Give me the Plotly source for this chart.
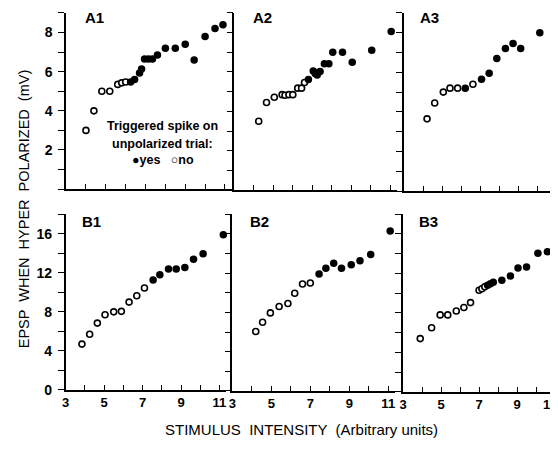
import plotly.graph_objects as go

# ---------------- data ----------------
a1_x = [4.0, 4.4, 4.8, 5.2, 5.6, 5.8, 6.0, 6.25, 6.45, 6.7, 6.8, 6.95, 7.15, 7.35, 7.6, 8.0, 8.5, 9.0, 9.45, 10.0, 10.5, 10.9]
a1_y = [3.0, 4.0, 5.0, 5.0, 5.35, 5.43, 5.47, 5.47, 5.6, 5.93, 6.13, 6.65, 6.65, 6.65, 6.85, 7.2, 7.2, 7.4, 6.6, 7.8, 8.2, 8.4]
a1_spike = [0, 0, 0, 0, 0, 0, 0, 1, 1, 1, 1, 1, 1, 1, 1, 1, 1, 1, 1, 1, 1, 1]

a2_x = [4.25, 4.65, 5.05, 5.45, 5.6, 5.8, 6.0, 6.25, 6.45, 6.6, 6.8, 7.05, 7.15, 7.25, 7.4, 7.62, 7.85, 8.05, 8.55, 9.05, 10.05, 11.05]
a2_y = [3.5, 4.45, 4.72, 4.85, 4.82, 4.85, 4.85, 5.18, 5.18, 5.47, 5.62, 6.05, 5.92, 5.85, 6.02, 6.42, 6.42, 7.0, 7.0, 6.5, 7.1, 8.05]
a2_spike = [0, 0, 0, 0, 0, 0, 0, 0, 0, 0, 1, 1, 1, 1, 1, 1, 1, 1, 1, 1, 1, 1]

a3_x = [4.2, 4.6, 5.05, 5.4, 5.8, 6.2, 6.6, 7.05, 7.45, 7.85, 8.3, 8.7, 9.1, 10.1, 11.05]
a3_y = [3.65, 4.45, 5.0, 5.2, 5.2, 5.2, 5.4, 5.65, 5.95, 6.7, 7.2, 7.45, 7.2, 8.0, 8.4]
a3_spike = [0, 0, 0, 0, 0, 1, 0, 1, 1, 1, 1, 1, 1, 1, 1]

b1_x = [3.85, 4.25, 4.65, 5.05, 5.5, 5.9, 6.3, 6.7, 7.1, 7.55, 7.9, 8.35, 8.75, 9.2, 9.65, 10.15, 11.2]
b1_y = [4.7, 5.7, 6.85, 7.7, 8.0, 8.05, 9.0, 9.65, 10.45, 11.25, 11.8, 12.4, 12.4, 12.55, 13.4, 13.95, 15.9]
b1_spike = [0, 0, 0, 0, 0, 0, 0, 0, 0, 1, 1, 1, 1, 1, 1, 1, 1]

b2_x = [4.2, 4.55, 4.95, 5.4, 5.85, 6.2, 6.6, 7.0, 7.45, 7.8, 8.2, 8.6, 9.1, 9.55, 10.1, 11.1]
b2_y = [6.05, 7.0, 7.95, 8.6, 8.9, 9.95, 10.9, 11.0, 11.9, 12.5, 13.0, 12.5, 12.85, 13.25, 13.9, 16.3]
b2_spike = [0, 0, 0, 0, 0, 0, 0, 0, 1, 1, 1, 1, 1, 1, 1, 1]

b3_x = [3.9, 4.5, 4.95, 5.35, 5.8, 6.2, 6.55, 7.0, 7.15, 7.3, 7.45, 7.6, 7.75, 8.2, 8.65, 9.05, 9.5, 10.1, 10.6]
b3_y = [5.4, 6.5, 7.8, 7.8, 8.2, 8.55, 9.05, 10.3, 10.45, 10.65, 10.8, 10.95, 11.1, 11.3, 11.75, 12.55, 12.65, 14.05, 14.2]
b3_spike = [0, 0, 0, 0, 0, 0, 0, 0, 0, 0, 1, 1, 1, 1, 1, 1, 1, 1, 1]

panel_names = ["A1", "A2", "A3", "B1", "B2", "B3"]
x_tick_vals = [3, 4, 5, 6, 7, 8, 9, 10, 11]
x_tick_text = ["3", "", "5", "", "7", "", "9", "", "11"]
x_tick_text_last = ["3", "", "5", "", "7", "", "9", "", ""]  # its "11" is set at the page edge
a_tick_vals = [0, 1, 2, 3, 4, 5, 6, 7, 8, 9]
a_tick_text = ["", "", "2", "", "4", "", "6", "", "8", ""]
b_tick_vals = [0, 2, 4, 6, 8, 10, 12, 14, 16, 18]
b_tick_text = ["0", "", "4", "", "8", "", "12", "", "16", ""]

# ---------------- layout geometry ----------------
PAGE_W, PAGE_H = 558, 451
OFF = 8  # default page margin before the figure
W, H = PAGE_W - OFF, PAGE_H - OFF
FONT = "Liberation Sans"
# per panel, in page pixels: x=3, x=11, top, y=0
panel_geo = [
    (62.5, 222.5, 13, 192.5), (232, 389, 13, 193.5), (403, 557, 13, 194.5),
    (62, 217, 218, 397), (230, 387, 218, 398), (402, 555, 218, 399),
]
EXTRA = 0.35  # room past x=11 so edge points stay visible

def px_x(p):
    return (p - OFF) / W

def px_y(p):
    return 1 - (p - OFF) / H

panels = [
    (a1_x, a1_y, a1_spike), (a2_x, a2_y, a2_spike), (a3_x, a3_y, a3_spike),
    (b1_x, b1_y, b1_spike), (b2_x, b2_y, b2_spike), (b3_x, b3_y, b3_spike),
]

fig = go.Figure()
layout = {}
for i, (xs, ys, sp) in enumerate(panels):
    r, c = divmod(i, 3)
    n = i + 1
    xa = "x" if n == 1 else f"x{n}"
    ya = "y" if n == 1 else f"y{n}"
    xo = [x for x, s in zip(xs, sp) if s == 0]
    yo = [y for y, s in zip(ys, sp) if s == 0]
    xf = [x for x, s in zip(xs, sp) if s == 1]
    yf = [y for y, s in zip(ys, sp) if s == 1]
    fig.add_trace(go.Scatter(x=xo, y=yo, mode="markers", xaxis=xa, yaxis=ya,
                             cliponaxis=False, showlegend=False,
                             marker=dict(size=6, color="white", symbol="circle",
                                         line=dict(color="black", width=1.6))))
    fig.add_trace(go.Scatter(x=xf, y=yf, mode="markers", xaxis=xa, yaxis=ya,
                             cliponaxis=False, showlegend=False,
                             marker=dict(size=7.5, color="black", symbol="circle",
                                         line=dict(width=0))))
    x3, x11, ytop, y0 = panel_geo[i]
    unit = (x11 - x3) / 8.0
    right = min(PAGE_W, x11 + EXTRA * unit)
    xr = 11 + (right - x11) / unit
    key_x = "xaxis" if n == 1 else f"xaxis{n}"
    key_y = "yaxis" if n == 1 else f"yaxis{n}"
    layout[key_x] = dict(
        domain=[px_x(x3), min(1.0, px_x(right))], range=[3, xr], anchor=ya,
        showgrid=False, zeroline=False, showline=True, linecolor="black", linewidth=1.5,
        ticks="inside", ticklen=5, tickwidth=1.3, tickcolor="black",
        tickvals=x_tick_vals,
        ticktext=x_tick_text_last if (r == 1 and c == 2) else x_tick_text,
        showticklabels=(r == 1),
        tickfont=dict(family=FONT, size=13, color="black", weight="bold"),
        fixedrange=True,
    )
    layout[key_y] = dict(
        domain=[px_y(y0), px_y(ytop)], range=[0, 9] if r == 0 else [0, 18], anchor=xa,
        showgrid=False, zeroline=False, showline=True, linecolor="black", linewidth=1.5,
        ticks="outside", ticklen=6, tickwidth=1.3, tickcolor="black",
        tickvals=a_tick_vals if r == 0 else b_tick_vals,
        ticktext=a_tick_text if r == 0 else b_tick_text,
        showticklabels=(c == 0), ticklabelstandoff=3,
        tickfont=dict(family=FONT, size=14, color="black", weight="bold"),
        fixedrange=True,
    )

annotations = []
label_pos = [(80, 18), (249, 18), (417, 18), (77, 225), (246, 225), (416, 225)]
for name, (lx, ly) in zip(panel_names, label_pos):
    annotations.append(dict(xref="paper", yref="paper", x=px_x(lx), y=px_y(ly),
                            xanchor="left", yanchor="middle", showarrow=False,
                            text=name, font=dict(family=FONT, size=15, color="black", weight="bold")))

legend_lines = [("Triggered spike on", 128), ("unpolarized trial:", 147), ("●yes   ○no", 163)]
for txt, ly in legend_lines:
    annotations.append(dict(xref="paper", yref="paper", x=px_x(160), y=px_y(ly),
                            xanchor="center", yanchor="middle", showarrow=False,
                            text=txt, font=dict(family=FONT, size=12.5, color="black", weight="bold")))

# "11" of the last panel, kept inside the page edge
annotations.append(dict(xref="paper", yref="paper", x=1.0, y=px_y(412),
                        xanchor="right", yanchor="middle", showarrow=False,
                        text="11", borderpad=0,
                        font=dict(family=FONT, size=13, color="black", weight="bold")))

annotations.append(dict(xref="paper", yref="paper", x=px_x(300), y=px_y(437),
                        xanchor="center", yanchor="middle", showarrow=False,
                        text="STIMULUS  INTENSITY  (Arbitrary units)",
                        font=dict(family=FONT, size=15, color="black")))
annotations.append(dict(xref="paper", yref="paper", x=px_x(20), y=px_y(212),
                        xanchor="center", yanchor="middle", showarrow=False, textangle=-90,
                        text="EPSP  WHEN  HYPER  POLARIZED  (mV)",
                        font=dict(family=FONT, size=14.5, color="black")))

fig.update_layout(
    width=W, height=H, margin=dict(l=0, r=0, t=0, b=0),
    paper_bgcolor="white", plot_bgcolor="white",
    annotations=annotations, showlegend=False, **layout,
)

fig.write_html("out.html")
